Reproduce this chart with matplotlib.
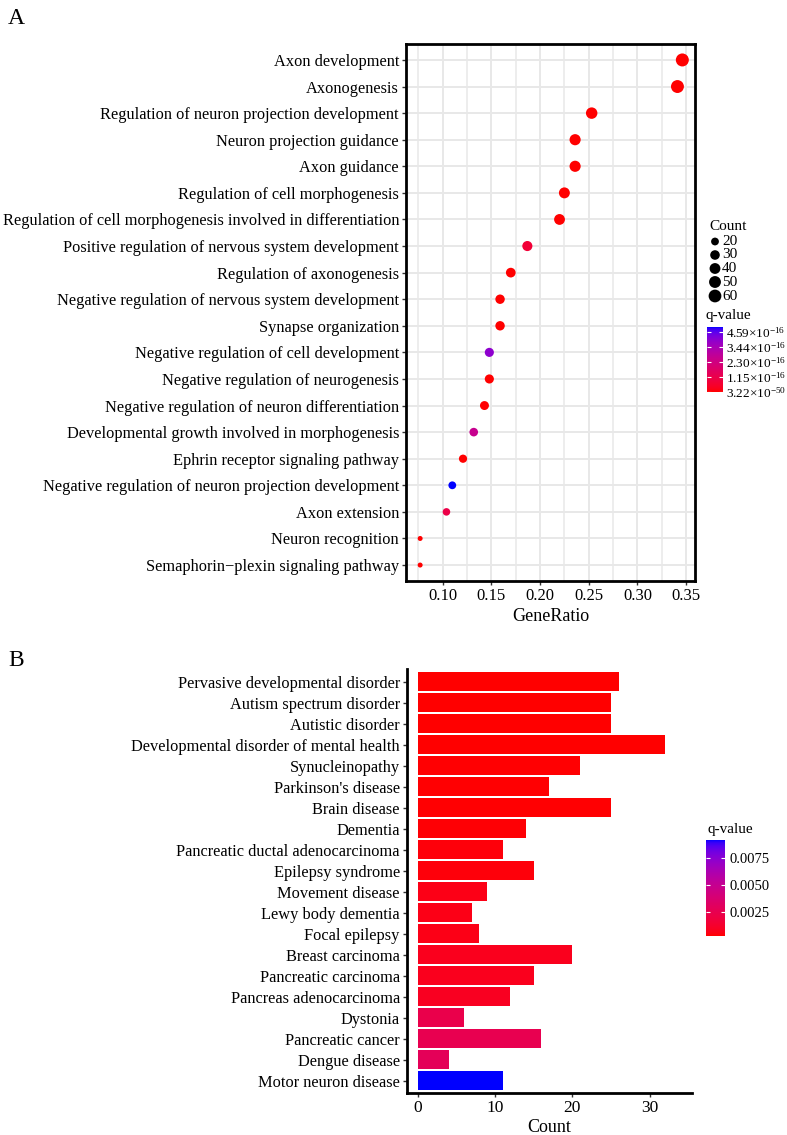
import numpy as np
import matplotlib.pyplot as plt
from matplotlib.colors import ListedColormap, Normalize
from matplotlib.cm import ScalarMappable

plt.rcParams['font.family'] = ['Liberation Serif', 'DejaVu Serif']
plt.rcParams['mathtext.fontset'] = 'custom'
plt.rcParams['mathtext.rm'] = 'Liberation Serif'
plt.rcParams['mathtext.it'] = 'Liberation Serif:italic'

# panel A: GO enrichment (top to bottom)
go_terms = ['Axon development', 'Axonogenesis', 'Regulation of neuron projection development',
            'Neuron projection guidance', 'Axon guidance', 'Regulation of cell morphogenesis',
            'Regulation of cell morphogenesis involved in differentiation',
            'Positive regulation of nervous system development', 'Regulation of axonogenesis',
            'Negative regulation of nervous system development', 'Synapse organization',
            'Negative regulation of cell development', 'Negative regulation of neurogenesis',
            'Negative regulation of neuron differentiation',
            'Developmental growth involved in morphogenesis', 'Ephrin receptor signaling pathway',
            'Negative regulation of neuron projection development', 'Axon extension',
            'Neuron recognition', 'Semaphorin\u2212plexin signaling pathway']
gene_ratio = [0.346, 0.341, 0.253, 0.236, 0.236, 0.225, 0.220, 0.187, 0.170, 0.159,
              0.159, 0.148, 0.148, 0.143, 0.132, 0.121, 0.110, 0.104, 0.077, 0.077]
go_count = [63, 62, 46, 43, 43, 41, 40, 34, 31, 29, 29, 27, 27, 26, 24, 22, 20, 19, 14, 14]
go_q = [3.22e-50, 1.1e-49, 2.0e-30, 4.0e-25, 4.0e-25, 1.0e-24, 3.0e-24, 0.75e-16, 2.0e-20, 5.0e-19,
        3.0e-19, 3.95e-16, 1.0e-18, 2.0e-18, 2.6e-16, 1.0e-18, 4.96e-16, 1.05e-16, 1.0e-18, 1.0e-18]
legend_counts = [20, 30, 40, 50, 60]
go_q_ticks = [3.22e-50, 1.15e-16, 2.30e-16, 3.44e-16, 4.59e-16]
go_q_labels = [r'$3.22{\times}10^{-50}$', r'$1.15{\times}10^{-16}$', r'$2.30{\times}10^{-16}$',
               r'$3.44{\times}10^{-16}$', r'$4.59{\times}10^{-16}$']

# panel B: disease enrichment (top to bottom)
diseases = ['Pervasive developmental disorder', 'Autism spectrum disorder', 'Autistic disorder',
            'Developmental disorder of mental health', 'Synucleinopathy', "Parkinson's disease",
            'Brain disease', 'Dementia', 'Pancreatic ductal adenocarcinoma', 'Epilepsy syndrome',
            'Movement disease', 'Lewy body dementia', 'Focal epilepsy', 'Breast carcinoma',
            'Pancreatic carcinoma', 'Pancreas adenocarcinoma', 'Dystonia', 'Pancreatic cancer',
            'Dengue disease', 'Motor neuron disease']
disease_count = [26, 25, 25, 32, 21, 17, 25, 14, 11, 15, 9, 7, 8, 20, 15, 12, 6, 16, 4, 11]
disease_q = [0.00025, 0.00025, 0.00026, 0.00026, 0.0003, 0.0003, 0.0003, 0.00035, 0.0004, 0.0004,
             0.0006, 0.0006, 0.0006, 0.0008, 0.0008, 0.0009, 0.0023, 0.0025, 0.0028, 0.00914]
disease_q_ticks = [0.0025, 0.0050, 0.0075]


# red -> blue ramp interpolated in CIELAB, like ggplot's scale_colour_gradient
M = np.array([[0.4124, 0.3576, 0.1805], [0.2126, 0.7152, 0.0722], [0.0193, 0.1192, 0.9505]])
WHITE = np.array([0.95047, 1.0, 1.08883])


def to_lab(rgb):
    c = np.asarray(rgb, float)
    lin = np.where(c <= 0.04045, c / 12.92, ((c + 0.055) / 1.055) ** 2.4)
    xyz = M @ lin / WHITE
    f = np.where(xyz > 0.008856, np.cbrt(xyz), 7.787 * xyz + 16 / 116)
    return np.array([116 * f[1] - 16, 500 * (f[0] - f[1]), 200 * (f[1] - f[2])])


def from_lab(lab):
    fy = (lab[0] + 16) / 116
    f = np.array([fy + lab[1] / 500, fy, fy - lab[2] / 200])
    xyz = np.where(f ** 3 > 0.008856, f ** 3, (f - 16 / 116) / 7.787) * WHITE
    lin = np.clip(np.linalg.solve(M, xyz), 0, 1)
    c = np.where(lin <= 0.0031308, 12.92 * lin, 1.055 * lin ** (1 / 2.4) - 0.055)
    return np.clip(c, 0, 1)


lab_r, lab_b = to_lab([1, 0, 0]), to_lab([0, 0, 1])
ramp = ListedColormap([from_lab(lab_r + t * (lab_b - lab_r)) for t in np.linspace(0, 1, 256)])


def dot_size(c):
    lo, hi = min(go_count), max(go_count)
    d_px = 5 + 8 * np.sqrt((np.asarray(c, float) - lo) / (hi - lo))
    return (d_px * 72 / 100) ** 2


W, H = 787, 1135
fig = plt.figure(figsize=(W / 100, H / 100), dpi=100)


def box(x0, y0, x1, y1):
    return [x0 / W, 1 - y1 / H, (x1 - x0) / W, (y1 - y0) / H]


# ---- A ----
ax1 = fig.add_axes(box(406, 44, 695, 581))
norm1 = Normalize(0, 4.96e-16)
y1 = np.arange(len(go_terms))[::-1]
ax1.scatter(gene_ratio, y1, s=dot_size(go_count), c=ramp(norm1(go_q)), edgecolors='none', zorder=3)
ax1.set_yticks(y1)
ax1.set_yticklabels(go_terms)
ax1.set_xticks([0.10, 0.15, 0.20, 0.25, 0.30, 0.35])
ax1.set_xticklabels(['0.10', '0.15', '0.20', '0.25', '0.30', '0.35'])
ax1.set_xticks(np.arange(0.075, 0.36, 0.05), minor=True)
ax1.set_xlim(0.0625, 0.359)
ax1.set_ylim(-0.6, 19.6)
ax1.grid(which='major', color='#E8E8E8', lw=1.4)
ax1.grid(which='minor', axis='x', color='#E8E8E8', lw=1.1)
ax1.set_axisbelow(True)
for s in ax1.spines.values():
    s.set_linewidth(2)
    s.set_color('black')
ax1.tick_params(which='major', length=3, width=1, color='#333333', labelsize=11.8, labelcolor='black', pad=2)
ax1.tick_params(axis='x', labelsize=12)
ax1.tick_params(which='minor', length=0)
ax1.set_xlabel('GeneRatio', fontsize=13, labelpad=3)

cax1 = fig.add_axes(box(707, 327, 723, 392))
cb1 = fig.colorbar(ScalarMappable(norm1, ramp), cax=cax1)
cb1.set_ticks(go_q_ticks)
cb1.set_ticklabels(go_q_labels)
cb1.outline.set_visible(False)
cax1.tick_params(left=True, right=True, labelleft=False, labelright=True, direction='in',
                 color='white', length=3, width=0.8, labelsize=9.5, pad=2)

# ---- B ----
ax2 = fig.add_axes(box(406.7, 669, 691.7, 1093.3))
norm2 = Normalize(0.00025, 0.00914)
y2 = np.arange(len(diseases))[::-1]
ax2.barh(y2, disease_count, height=0.9, color=ramp(norm2(disease_q)), linewidth=0)
ax2.set_yticks(y2)
ax2.set_yticklabels(diseases)
ax2.set_xticks([0, 10, 20, 30])
ax2.set_xlim(-1.4, 35.4)
ax2.set_ylim(-0.6, 19.6)
for side in ['top', 'right']:
    ax2.spines[side].set_visible(False)
for side in ['left', 'bottom']:
    ax2.spines[side].set_linewidth(2)
    ax2.spines[side].set_color('black')
ax2.tick_params(length=3, width=1, color='#333333', labelsize=11.8, labelcolor='black', pad=2)
ax2.tick_params(axis='x', labelsize=12.5)
ax2.set_xlabel('Count', fontsize=13, labelpad=2)

cax2 = fig.add_axes(box(706, 840, 725, 936))
cb2 = fig.colorbar(ScalarMappable(norm2, ramp), cax=cax2)
cb2.set_ticks(disease_q_ticks)
cb2.set_ticklabels(['%.4f' % v for v in disease_q_ticks])
cb2.outline.set_visible(False)
cax2.tick_params(left=True, right=True, labelleft=False, labelright=True, direction='in',
                 color='white', length=3, width=0.8, labelsize=10.5, pad=3)

# ---- legends / panel letters ----
over = fig.add_axes([0, 0, 1, 1], zorder=5)
over.set_xlim(0, W)
over.set_ylim(H, 0)
over.set_axis_off()
over.text(709, 226, 'Count', fontsize=11, va='center')
for c, yy in zip(legend_counts, [241.5, 255, 268.5, 282, 296]):
    over.scatter(715, yy, s=dot_size(c), color='black', edgecolors='none')
    over.text(722, yy, str(c), fontsize=11, va='center')
over.text(706, 315, 'q-value', fontsize=11, va='center')
over.text(707, 829, 'q-value', fontsize=11, va='center')
over.text(8, 18, 'A', fontsize=17, va='center')
over.text(8, 660, 'B', fontsize=17, va='center')

fig.savefig('out.png', dpi=100)
